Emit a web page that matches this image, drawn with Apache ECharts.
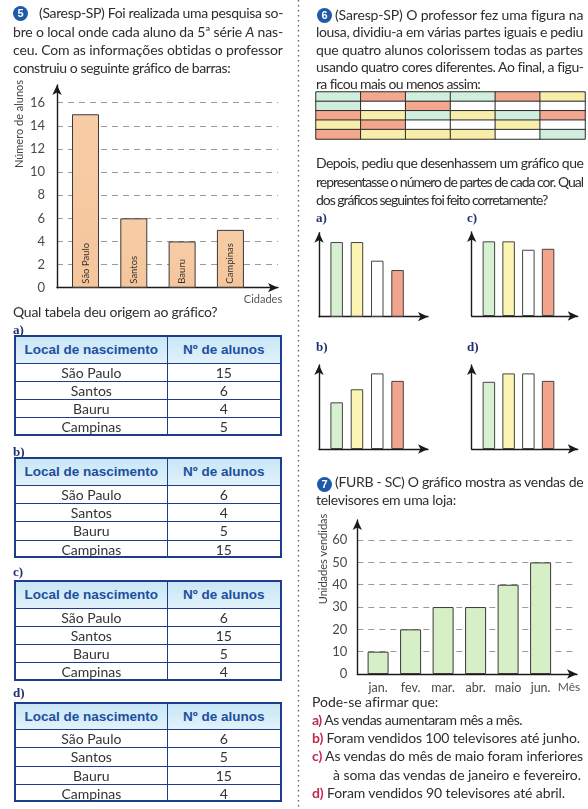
<!DOCTYPE html>
<html><head><meta charset="utf-8">
<script src="https://cdn.jsdelivr.net/npm/echarts@6/dist/echarts.min.js"></script>
<style>
html,body{margin:0;padding:0;background:#fff;}
#page{position:relative;width:588px;height:809px;overflow:hidden;background:#fff;}
#chart{position:absolute;left:0;top:0;width:588px;height:809px;}
#overlay{position:absolute;left:0;top:0;width:588px;height:809px;pointer-events:none;}
.ln{position:absolute;white-space:nowrap;font-family:Lato,'Open Sans',sans-serif;font-size:14px;color:#2d2d2d;line-height:18px;}
.opt{font-weight:bold;color:#c22a4e;}
.num{position:absolute;width:15px;height:15px;border-radius:50%;background:#1f5aa8;color:#fff;font:bold 11px 'Liberation Sans',Arial,sans-serif;text-align:center;line-height:15px;}
.lab{position:absolute;font:bold 13px 'Liberation Serif',serif;color:#22306e;line-height:16px;}
.tbl{position:absolute;border:2px solid #1d3c8a;box-sizing:border-box;}
.cell{position:absolute;box-sizing:border-box;text-align:center;font-family:Lato,'Open Sans',sans-serif;font-size:14px;color:#333;}
.hd{font:bold 13.5px 'Liberation Sans',Arial,sans-serif;color:#1d4f9e;background:linear-gradient(#c8e6f6,#e2f2fb);}
</style></head>
<body><div id="page"><div id="chart"></div><div id="overlay"></div></div>
<script>
// ---------- DATA ----------
const cities = ['São Paulo', 'Santos', 'Bauru', 'Campinas'];
const alunos = [15, 6, 4, 5];

// coloured figure on the board: 5 rows x 6 columns (V = verde, R = vermelho, A = amarelo, B = branco)
const figureRows = [
  ['V', 'R', 'V', 'V', 'R', 'A'],
  ['V', 'B', 'R', 'B', 'B', 'B'],
  ['R', 'A', 'V', 'A', 'V', 'R'],
  ['A', 'R', 'B', 'B', 'A', 'B'],
  ['R', 'A', 'A', 'A', 'B', 'V']
];
const colourOrder = ['V', 'A', 'B', 'R'];   // order of the bars in the small graphs
const graphA = [8, 8, 6, 5];
const graphB = [5, 6.4, 8.1, 7.3];
const graphC = [8, 8, 7.1, 7.2];
const graphD = [7.2, 8.1, 8.1, 7.3];

const months = ['jan.', 'fev.', 'mar.', 'abr.', 'maio', 'jun.'];
const vendas = [10, 20, 30, 30, 40, 50];

const tableHeader = ['Local de nascimento', 'Nº de alunos'];
const tableA = [15, 6, 4, 5];
const tableB = [6, 4, 5, 15];
const tableC = [6, 15, 5, 4];
const tableD = [6, 5, 15, 4];

// ---------- STYLE ----------
const FONT = 'Lato, "Open Sans", sans-serif';
const colourMap = {V: '#cfeedd', R: '#f3a78f', A: '#f8eeaa', B: '#ffffff'};
const smallBarColours = {V: '#d7f0d2', A: '#fbf4b2', B: '#ffffff', R: '#f2a58c'};
const arrowLine = {show: true, onZero: false, symbol: ['none', 'arrow'], symbolSize: [7, 10], lineStyle: {color: '#1a1a1a', width: 1.4}};
const dashed = {show: true, showMinLine: false, showMaxLine: false, lineStyle: {color: '#9a9a9a', type: [6, 5], width: 1}};

const grids = [
  {left: 57, top: 85, width: 221, height: 202.7},
  {left: 316, top: 92, width: 269, height: 47},
  {left: 319, top: 232.7, width: 109, height: 84},
  {left: 471.7, top: 232, width: 106, height: 84},
  {left: 319, top: 365, width: 109, height: 84},
  {left: 471.7, top: 365, width: 106, height: 84},
  {left: 357.3, top: 520, width: 219.7, height: 154}
];

const xAxes = [], yAxes = [], series = [];
// chart 5
xAxes.push({gridIndex: 0, type: 'value', min: -0.59, max: 3.985, axisLine: arrowLine, axisTick: {show: false}, axisLabel: {show: false}, splitLine: {show: false}});
yAxes.push({gridIndex: 0, type: 'value', min: 0, max: 17.53, interval: 2, axisLine: arrowLine, axisTick: {show: false},
  axisLabel: {showMaxLabel: false, color: '#4a4a4a', fontSize: 13, fontFamily: FONT, margin: 12}, splitLine: dashed});
series.push({type: 'bar', xAxisIndex: 0, yAxisIndex: 0, barWidth: 27,
  data: alunos.map((v, i) => [i, v]),
  itemStyle: {color: new echarts.graphic.LinearGradient(0, 0, 0, 1, [{offset: 0, color: '#f7cda6'}, {offset: 1, color: '#f5c59b'}]), borderColor: '#3a3a3a', borderWidth: 1},
  label: {show: true, position: 'insideBottom', rotate: 90, align: 'left', verticalAlign: 'middle', distance: 4,
    formatter: p => cities[p.dataIndex], fontSize: 9.5, color: '#333', fontFamily: FONT}
});
// coloured figure (heatmap)
xAxes.push({gridIndex: 1, type: 'category', data: figureRows[0].map((_, i) => i), show: false});
yAxes.push({gridIndex: 1, type: 'category', data: figureRows.map((_, i) => i), inverse: true, show: false});
const figData = [];
figureRows.forEach((row, r) => row.forEach((c, k) => figData.push([k, r, colourOrder.indexOf(c)])));
series.push({type: 'heatmap', xAxisIndex: 1, yAxisIndex: 1, data: figData,
  itemStyle: {borderColor: '#2b2b2b', borderWidth: 1}, emphasis: {disabled: true}});
// small graphs a, c, b, d
[graphA, graphC, graphB, graphD].forEach((g, k) => {
  const gi = k + 2;
  xAxes.push({gridIndex: gi, type: 'value', min: -0.87, max: 4.5, axisLine: arrowLine, axisTick: {show: false}, axisLabel: {show: false}, splitLine: {show: false}});
  yAxes.push({gridIndex: gi, type: 'value', min: 0, max: 9, axisLine: arrowLine, axisTick: {show: false}, axisLabel: {show: false}, splitLine: {show: false}});
  series.push({type: 'bar', xAxisIndex: gi, yAxisIndex: gi, barWidth: 12.5,
    data: g.map((v, i) => [i, v]),
    itemStyle: {color: p => smallBarColours[colourOrder[p.dataIndex]], borderColor: '#444', borderWidth: 1}});
});
// chart 7
xAxes.push({gridIndex: 6, type: 'value', min: -0.64, max: 6.12, axisLine: arrowLine, axisTick: {show: false},
  axisLabel: {customValues: [0, 1, 2, 3, 4, 5], formatter: v => months[v], color: '#4a4a4a', fontSize: 12.5, fontFamily: FONT, margin: 7},
  splitLine: {show: false}});
yAxes.push({gridIndex: 6, type: 'value', min: 0, max: 69, interval: 10, axisLine: arrowLine, axisTick: {show: false},
  axisLabel: {showMaxLabel: false, color: '#4a4a4a', fontSize: 13, fontFamily: FONT, margin: 10}, splitLine: dashed});
series.push({type: 'bar', xAxisIndex: 6, yAxisIndex: 6, barWidth: 21,
  data: vendas.map((v, i) => [i, v]),
  itemStyle: {color: '#d6efc6', borderColor: '#3a3a3a', borderWidth: 1}});

const graphic = [
  {type: 'line', shape: {x1: 298.5, y1: 0, x2: 298.5, y2: 809}, style: {stroke: '#666', lineWidth: 1.4, lineDash: [1.4, 3.6]}},
  {type: 'text', x: 19, y: 124, rotation: Math.PI / 2, style: {text: 'Número de alunos', font: '11px ' + FONT, fill: '#444', align: 'center', verticalAlign: 'middle'}},
  {type: 'text', x: 263, y: 299, style: {text: 'Cidades', font: '11px ' + FONT, fill: '#555', align: 'center', verticalAlign: 'middle'}},
  {type: 'text', x: 323, y: 559, rotation: Math.PI / 2, style: {text: 'Unidades vendidas', font: '11px ' + FONT, fill: '#444', align: 'center', verticalAlign: 'middle'}},
  {type: 'text', x: 569, y: 687, style: {text: 'Mês', font: '12px ' + FONT, fill: '#555', align: 'center', verticalAlign: 'middle'}}
];

const chart = echarts.init(document.getElementById('chart'), null, {renderer: 'canvas'});
chart.setOption({
  animation: false,
  backgroundColor: 'transparent',
  grid: grids,
  xAxis: xAxes,
  yAxis: yAxes,
  visualMap: {type: 'piecewise', show: false, seriesIndex: 1, dimension: 2,
    pieces: colourOrder.map((c, i) => ({value: i, color: colourMap[c]}))},
  series: series,
  graphic: graphic
});

// ---------- TEXT OVERLAY ----------
const ov = document.getElementById('overlay');
// [left, centreY, right, html, justify]
const lines = [
  [39, 13, 283, '(Saresp-SP) Foi realizada uma pesquisa so-', true],
  [13, 32, 283, 'bre o local onde cada aluno da 5ª série <i>A</i> nas-', true],
  [13, 50, 283, 'ceu. Com as informações obtidas o professor', true],
  [13, 68, 230, 'construiu o seguinte gráfico de barras:', false],
  [13, 312, 217, 'Qual tabela deu origem ao gráfico?', false],
  [335, 15, 583, '(Saresp-SP) O professor fez uma figura na', true],
  [316, 32, 583, 'lousa, dividiu-a em várias partes iguais e pediu', true],
  [316, 50, 583, 'que quatro alunos colorissem todas as partes', true],
  [316, 67, 583, 'usando quatro cores diferentes. Ao final, a figu-', true],
  [316, 84, 480, 'ra ficou mais ou menos assim:', false],
  [316, 163, 583, 'Depois, pediu que desenhassem um gráfico que', true],
  [316, 182, 583, 'representasse o número de partes de cada cor. Qual', true],
  [316, 200, 547, 'dos gráficos seguintes foi feito corretamente?', false],
  [335, 482, 583, '(FURB - SC) O gráfico mostra as vendas de', true],
  [316, 500, 456, 'televisores em uma loja:', false],
  [312, 702, 438, 'Pode-se afirmar que:', false],
  [312, 720, 522, '<span class="opt">a)</span> As vendas aumentaram mês a mês.', false],
  [312, 738, 580, '<span class="opt">b)</span> Foram vendidos 100 televisores até junho.', false],
  [312, 756, 583, '<span class="opt">c)</span> As vendas do mês de maio foram inferiores', true],
  [333, 775, 581, 'à soma das vendas de janeiro e fevereiro.', false],
  [312, 793, 565, '<span class="opt">d)</span> Foram vendidos 90 televisores até abril.', false]
];
lines.forEach(([x, yc, x2, html, just]) => {
  const el = document.createElement('div');
  el.className = 'ln';
  el.innerHTML = html;
  el.style.left = x + 'px';
  el.style.top = (yc - 9) + 'px';
  ov.appendChild(el);
  const w = x2 - x;
  const nat = el.getBoundingClientRect().width;
  const txt = el.textContent;
  const spaces = (txt.match(/ /g) || []).length;
  if (nat > w || !just) {
    el.style.letterSpacing = ((w - nat) / txt.length) + 'px';
  } else if (spaces) {
    el.style.wordSpacing = ((w - nat) / spaces) + 'px';
  }
});
// numbered circles
[[13, 6, '5'], [317, 8, '6'], [317, 477, '7']].forEach(([x, y, t]) => {
  const el = document.createElement('div');
  el.className = 'num'; el.textContent = t;
  el.style.left = x + 'px'; el.style.top = y + 'px';
  ov.appendChild(el);
});
// option labels
[[13, 322, 'a)'], [13, 444, 'b)'], [13, 564, 'c)'], [13, 685, 'd)'],
 [316, 210, 'a)'], [467, 210, 'c)'], [316, 339, 'b)'], [467, 339, 'd)']].forEach(([x, y, t]) => {
  const el = document.createElement('div');
  el.className = 'lab'; el.textContent = t;
  el.style.left = x + 'px'; el.style.top = y + 'px';
  ov.appendChild(el);
});
// tables
const tLeft = 14, tWidth = 268, col1 = 153.7, headH = 27.5, rowH = 18.3;
[[335, tableA], [457.3, tableB], [580, tableC], [701.7, tableD]].forEach(([top, vals]) => {
  const t = document.createElement('div');
  t.className = 'tbl';
  t.style.left = tLeft + 'px'; t.style.top = top + 'px';
  t.style.width = tWidth + 'px'; t.style.height = (headH + 4 * rowH) + 'px';
  ov.appendChild(t);
  const inner = tWidth - 4;
  const c1 = col1 - 2;
  const rows = [tableHeader].concat(cities.map((c, i) => [c, String(vals[i])]));
  rows.forEach((r, ri) => {
    const y = ri === 0 ? 0 : headH - 2 + (ri - 1) * rowH;
    const h = ri === 0 ? headH - 2 : rowH;
    r.forEach((txt, ci) => {
      const c = document.createElement('div');
      c.className = 'cell' + (ri === 0 ? ' hd' : '');
      c.textContent = txt;
      c.style.left = (ci === 0 ? 0 : c1) + 'px';
      c.style.width = (ci === 0 ? c1 : inner - c1) + 'px';
      c.style.top = y + 'px';
      c.style.height = h + 'px';
      c.style.lineHeight = h + 'px';
      if (ci === 0) c.style.borderRight = '1.5px solid #1d3c8a';
      if (ri > 0) c.style.borderTop = (ri === 1 ? '1.5px' : '1px') + ' solid #1d3c8a';
      t.appendChild(c);
    });
  });
});
</script>
</body></html>
